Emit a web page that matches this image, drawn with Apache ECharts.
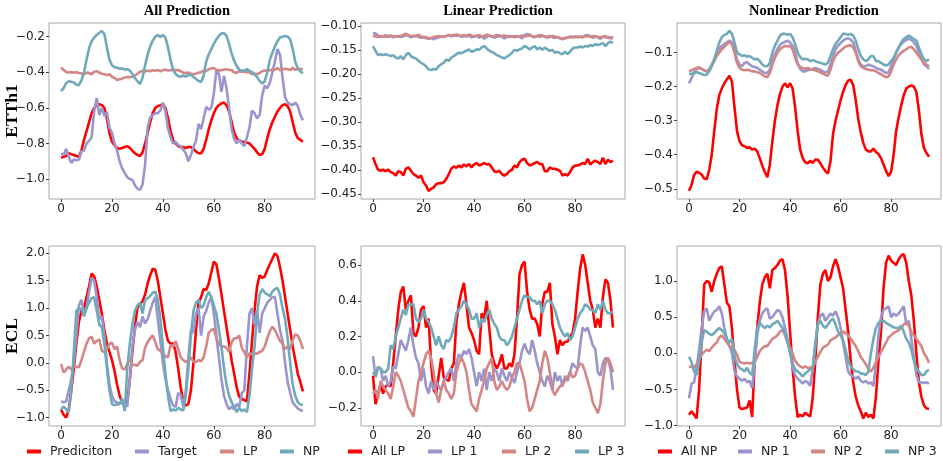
<!DOCTYPE html>
<html>
<head>
<meta charset="utf-8">
<script src="https://cdn.jsdelivr.net/npm/echarts@6/dist/echarts.min.js"></script>
<style>
  html, body { margin: 0; padding: 0; background: #fff; }
  #chart { width: 943px; height: 461px; }
</style>
</head>
<body>
<div id="chart"></div>
<script>
// ---------- ETTh1 series (96 forecast steps) ----------
const ettPred = [-0.88,-0.875,-0.87,-0.855,-0.86,-0.865,-0.87,-0.875,-0.84,-0.78,-0.73,-0.68,-0.63,-0.6,-0.585,-0.58,-0.585,-0.6,-0.66,-0.74,-0.79,-0.81,-0.825,-0.83,-0.825,-0.82,-0.815,-0.825,-0.84,-0.855,-0.865,-0.87,-0.85,-0.8,-0.74,-0.68,-0.63,-0.6,-0.59,-0.585,-0.58,-0.6,-0.66,-0.73,-0.78,-0.8,-0.815,-0.82,-0.82,-0.825,-0.82,-0.82,-0.83,-0.845,-0.855,-0.855,-0.83,-0.78,-0.72,-0.67,-0.63,-0.6,-0.585,-0.575,-0.57,-0.585,-0.62,-0.68,-0.74,-0.77,-0.785,-0.79,-0.79,-0.795,-0.8,-0.815,-0.83,-0.85,-0.865,-0.86,-0.83,-0.77,-0.72,-0.68,-0.65,-0.62,-0.6,-0.585,-0.58,-0.59,-0.62,-0.68,-0.74,-0.77,-0.78,-0.79];
const ettTarget = [-0.856,-0.865,-0.83,-0.875,-0.91,-0.89,-0.895,-0.89,-0.845,-0.84,-0.8,-0.785,-0.765,-0.62,-0.545,-0.64,-0.6,-0.645,-0.625,-0.71,-0.74,-0.8,-0.84,-0.9,-0.94,-0.965,-0.99,-1.0,-1.005,-1.035,-1.055,-1.06,-1.03,-0.92,-0.71,-0.655,-0.64,-0.63,-0.63,-0.615,-0.57,-0.62,-0.715,-0.765,-0.8,-0.79,-0.81,-0.815,-0.835,-0.855,-0.9,-0.865,-0.82,-0.785,-0.69,-0.72,-0.66,-0.595,-0.61,-0.6,-0.52,-0.39,-0.41,-0.51,-0.42,-0.49,-0.6,-0.72,-0.775,-0.8,-0.775,-0.8,-0.815,-0.765,-0.71,-0.615,-0.63,-0.66,-0.64,-0.53,-0.475,-0.49,-0.46,-0.4,-0.34,-0.27,-0.3,-0.43,-0.54,-0.57,-0.58,-0.585,-0.57,-0.59,-0.64,-0.67];
const ettLP = [-0.373,-0.387,-0.399,-0.401,-0.399,-0.402,-0.399,-0.404,-0.406,-0.411,-0.402,-0.404,-0.411,-0.397,-0.394,-0.401,-0.408,-0.411,-0.416,-0.411,-0.425,-0.432,-0.443,-0.439,-0.436,-0.429,-0.427,-0.427,-0.425,-0.418,-0.408,-0.397,-0.392,-0.395,-0.39,-0.394,-0.388,-0.392,-0.387,-0.394,-0.388,-0.385,-0.39,-0.388,-0.385,-0.388,-0.387,-0.394,-0.402,-0.404,-0.401,-0.408,-0.411,-0.408,-0.402,-0.399,-0.39,-0.394,-0.383,-0.378,-0.376,-0.385,-0.39,-0.388,-0.385,-0.383,-0.387,-0.387,-0.402,-0.402,-0.394,-0.397,-0.397,-0.399,-0.401,-0.411,-0.408,-0.411,-0.404,-0.394,-0.39,-0.39,-0.388,-0.385,-0.387,-0.376,-0.388,-0.383,-0.38,-0.383,-0.387,-0.374,-0.387,-0.378,-0.383,-0.38];
const ettNP = [-0.506,-0.489,-0.46,-0.45,-0.453,-0.458,-0.47,-0.472,-0.445,-0.4,-0.33,-0.265,-0.225,-0.205,-0.19,-0.178,-0.168,-0.185,-0.26,-0.33,-0.36,-0.372,-0.375,-0.38,-0.378,-0.385,-0.382,-0.39,-0.41,-0.432,-0.45,-0.466,-0.43,-0.36,-0.3,-0.255,-0.222,-0.2,-0.19,-0.202,-0.19,-0.205,-0.26,-0.33,-0.385,-0.41,-0.422,-0.425,-0.418,-0.424,-0.414,-0.415,-0.425,-0.438,-0.448,-0.455,-0.42,-0.34,-0.3,-0.27,-0.24,-0.215,-0.195,-0.182,-0.18,-0.195,-0.24,-0.295,-0.335,-0.365,-0.385,-0.39,-0.39,-0.382,-0.392,-0.398,-0.41,-0.428,-0.448,-0.463,-0.45,-0.4,-0.33,-0.29,-0.255,-0.225,-0.205,-0.2,-0.196,-0.2,-0.215,-0.27,-0.34,-0.38,-0.395,-0.406];
const ettLP1 = [-0.114,-0.115,-0.119,-0.122,-0.121,-0.118,-0.122,-0.12,-0.123,-0.121,-0.12,-0.122,-0.121,-0.118,-0.12,-0.123,-0.121,-0.12,-0.122,-0.124,-0.122,-0.125,-0.126,-0.124,-0.127,-0.124,-0.123,-0.121,-0.122,-0.12,-0.118,-0.121,-0.119,-0.12,-0.118,-0.122,-0.12,-0.121,-0.119,-0.123,-0.121,-0.119,-0.124,-0.12,-0.126,-0.122,-0.119,-0.121,-0.124,-0.122,-0.119,-0.121,-0.125,-0.122,-0.12,-0.121,-0.123,-0.12,-0.122,-0.125,-0.118,-0.116,-0.117,-0.121,-0.123,-0.12,-0.122,-0.119,-0.121,-0.124,-0.122,-0.12,-0.121,-0.123,-0.125,-0.127,-0.124,-0.123,-0.121,-0.122,-0.121,-0.123,-0.121,-0.122,-0.119,-0.118,-0.121,-0.124,-0.12,-0.123,-0.126,-0.122,-0.12,-0.124,-0.125,-0.121];
const ettLP2 = [-0.119,-0.121,-0.122,-0.12,-0.121,-0.122,-0.12,-0.119,-0.121,-0.12,-0.122,-0.12,-0.118,-0.115,-0.118,-0.121,-0.119,-0.12,-0.117,-0.121,-0.123,-0.122,-0.126,-0.124,-0.122,-0.121,-0.12,-0.122,-0.121,-0.12,-0.118,-0.119,-0.118,-0.117,-0.119,-0.12,-0.118,-0.12,-0.117,-0.119,-0.121,-0.12,-0.118,-0.121,-0.12,-0.117,-0.119,-0.122,-0.12,-0.118,-0.121,-0.12,-0.119,-0.12,-0.122,-0.121,-0.12,-0.122,-0.121,-0.119,-0.121,-0.12,-0.119,-0.12,-0.122,-0.12,-0.118,-0.12,-0.122,-0.121,-0.12,-0.123,-0.124,-0.122,-0.124,-0.126,-0.125,-0.124,-0.122,-0.123,-0.122,-0.121,-0.122,-0.123,-0.121,-0.12,-0.122,-0.12,-0.121,-0.122,-0.123,-0.121,-0.123,-0.122,-0.124,-0.125];
const ettLP3 = [-0.141,-0.151,-0.16,-0.158,-0.16,-0.158,-0.16,-0.162,-0.16,-0.165,-0.167,-0.162,-0.169,-0.16,-0.155,-0.162,-0.165,-0.167,-0.172,-0.176,-0.179,-0.183,-0.19,-0.191,-0.189,-0.19,-0.183,-0.179,-0.176,-0.169,-0.172,-0.165,-0.162,-0.158,-0.155,-0.156,-0.153,-0.151,-0.148,-0.153,-0.151,-0.148,-0.149,-0.144,-0.141,-0.146,-0.151,-0.153,-0.156,-0.16,-0.162,-0.165,-0.167,-0.163,-0.16,-0.155,-0.149,-0.151,-0.148,-0.146,-0.141,-0.144,-0.148,-0.144,-0.141,-0.148,-0.144,-0.149,-0.144,-0.148,-0.151,-0.149,-0.155,-0.153,-0.156,-0.158,-0.153,-0.158,-0.153,-0.146,-0.144,-0.144,-0.142,-0.144,-0.141,-0.142,-0.139,-0.141,-0.137,-0.139,-0.137,-0.135,-0.141,-0.135,-0.132,-0.135];
const ettNP1 = [-0.19,-0.175,-0.158,-0.148,-0.145,-0.148,-0.152,-0.155,-0.15,-0.135,-0.12,-0.1,-0.088,-0.08,-0.075,-0.07,-0.065,-0.07,-0.09,-0.12,-0.135,-0.14,-0.13,-0.128,-0.135,-0.14,-0.142,-0.145,-0.15,-0.155,-0.16,-0.16,-0.15,-0.125,-0.105,-0.09,-0.078,-0.072,-0.068,-0.065,-0.07,-0.08,-0.1,-0.13,-0.148,-0.155,-0.155,-0.152,-0.15,-0.148,-0.145,-0.148,-0.15,-0.155,-0.158,-0.155,-0.135,-0.11,-0.09,-0.08,-0.072,-0.065,-0.06,-0.058,-0.062,-0.07,-0.095,-0.12,-0.135,-0.14,-0.14,-0.135,-0.138,-0.14,-0.145,-0.148,-0.15,-0.155,-0.16,-0.158,-0.14,-0.12,-0.1,-0.085,-0.075,-0.068,-0.062,-0.06,-0.062,-0.07,-0.08,-0.1,-0.12,-0.135,-0.14,-0.148];
const ettNP2 = [-0.155,-0.152,-0.148,-0.145,-0.143,-0.148,-0.152,-0.155,-0.15,-0.138,-0.125,-0.11,-0.1,-0.09,-0.083,-0.075,-0.068,-0.075,-0.1,-0.13,-0.145,-0.15,-0.152,-0.15,-0.152,-0.155,-0.155,-0.158,-0.16,-0.165,-0.17,-0.172,-0.16,-0.135,-0.115,-0.1,-0.09,-0.085,-0.08,-0.082,-0.08,-0.09,-0.115,-0.135,-0.142,-0.145,-0.148,-0.145,-0.148,-0.15,-0.152,-0.155,-0.158,-0.162,-0.165,-0.168,-0.15,-0.125,-0.11,-0.1,-0.095,-0.088,-0.082,-0.08,-0.078,-0.085,-0.1,-0.125,-0.14,-0.145,-0.148,-0.15,-0.152,-0.152,-0.155,-0.16,-0.163,-0.168,-0.172,-0.17,-0.155,-0.135,-0.12,-0.108,-0.1,-0.095,-0.09,-0.085,-0.083,-0.09,-0.1,-0.11,-0.12,-0.13,-0.135,-0.14];
const ettNP3 = [-0.163,-0.162,-0.16,-0.158,-0.16,-0.163,-0.166,-0.165,-0.155,-0.14,-0.12,-0.095,-0.07,-0.055,-0.048,-0.045,-0.036,-0.045,-0.07,-0.1,-0.105,-0.11,-0.108,-0.112,-0.11,-0.115,-0.12,-0.118,-0.125,-0.135,-0.14,-0.14,-0.13,-0.1,-0.08,-0.065,-0.05,-0.045,-0.045,-0.048,-0.045,-0.055,-0.075,-0.1,-0.113,-0.12,-0.118,-0.12,-0.125,-0.122,-0.125,-0.128,-0.13,-0.133,-0.135,-0.13,-0.11,-0.09,-0.075,-0.065,-0.055,-0.045,-0.045,-0.048,-0.045,-0.05,-0.065,-0.09,-0.11,-0.12,-0.125,-0.12,-0.11,-0.11,-0.125,-0.125,-0.13,-0.135,-0.138,-0.135,-0.125,-0.115,-0.1,-0.085,-0.07,-0.06,-0.055,-0.05,-0.055,-0.06,-0.065,-0.085,-0.105,-0.12,-0.125,-0.12];

// ---------- ECL series (96 forecast steps) ----------
const eclPred = [-0.85,-0.95,-1.0,-0.85,-0.5,-0.1,0.35,0.75,0.95,1.0,1.2,1.4,1.63,1.58,1.4,1.15,0.9,0.6,0.35,0.2,0.05,-0.15,-0.4,-0.6,-0.72,-0.8,-0.7,-0.3,0.2,0.65,1.0,1.08,1.12,1.25,1.45,1.6,1.72,1.7,1.5,1.2,0.9,0.6,0.4,0.35,0.36,0.2,-0.1,-0.45,-0.7,-0.78,-0.75,-0.5,0.0,0.6,1.1,1.2,1.35,1.33,1.45,1.65,1.85,1.8,1.55,1.25,0.95,0.65,0.35,0.05,-0.2,-0.45,-0.62,-0.66,-0.68,-0.7,-0.2,0.4,0.95,1.4,1.6,1.55,1.58,1.7,1.8,1.9,2.0,1.95,1.75,1.5,1.2,0.9,0.6,0.3,0.05,-0.2,-0.35,-0.52];
const eclTarget = [-0.7,-0.72,-0.7,-0.5,-0.3,0.0,0.5,1.05,1.15,0.9,1.0,1.3,1.55,1.5,1.2,0.8,0.85,0.5,0.0,-0.4,-0.6,-0.7,-0.72,-0.75,-0.7,-0.75,-0.8,-0.3,0.3,0.6,0.75,0.65,0.85,0.72,0.8,0.95,1.1,1.2,0.8,0.4,0.0,-0.3,-0.5,-0.65,-0.78,-0.8,-0.55,-0.58,-0.8,-0.5,0.1,0.6,0.55,0.9,1.0,0.5,0.85,0.95,1.1,1.2,0.9,0.5,0.1,-0.3,-0.6,-0.75,-0.85,-0.8,-0.85,-0.75,-0.8,-0.55,-0.5,0.3,0.9,1.0,0.7,0.95,0.55,0.9,1.0,1.1,1.15,1.2,1.2,0.9,0.6,0.4,0.0,-0.35,-0.55,-0.72,-0.78,-0.83,-0.86,-0.88];
const eclLP = [-0.02,-0.18,-0.12,-0.07,-0.12,-0.08,-0.07,-0.08,0.05,0.2,0.35,0.45,0.48,0.35,0.4,0.43,0.22,0.2,0.25,0.35,0.37,0.25,0.3,0.05,-0.1,-0.12,-0.02,0.08,-0.03,-0.04,-0.05,0.02,0.05,0.28,0.38,0.45,0.5,0.38,0.25,0.22,0.18,0.12,0.1,0.33,0.3,0.4,0.25,0.1,0.05,0.02,0.05,0.1,0.02,0.02,0.05,0.03,0.1,0.3,0.55,0.6,0.62,0.45,0.35,0.3,0.3,0.27,0.2,0.38,0.45,0.45,0.5,0.27,0.2,0.1,0.18,0.15,0.17,0.17,0.2,0.22,0.3,0.45,0.58,0.66,0.6,0.5,0.4,0.35,0.25,0.3,0.25,0.42,0.52,0.5,0.4,0.25];
const eclNP = [-0.85,-0.8,-0.85,-0.9,-0.5,0.2,0.95,1.0,0.98,0.85,1.0,1.1,1.18,1.2,0.95,0.7,0.65,0.35,-0.1,-0.5,-0.75,-0.77,-0.76,-0.75,-0.65,-0.88,-0.1,0.35,0.7,0.95,1.05,1.1,0.9,1.15,1.18,1.22,1.28,1.3,1.15,0.8,0.3,-0.2,-0.6,-0.88,-0.85,-0.87,-0.82,-0.85,-0.87,-0.6,-0.1,0.5,0.95,1.1,1.15,1.0,1.05,1.2,1.3,1.2,1.05,0.9,0.6,0.3,-0.1,-0.4,-0.6,-0.72,-0.8,-0.9,-0.82,-0.88,-0.85,-0.9,-0.6,-0.1,0.3,0.9,1.25,1.35,1.28,1.25,1.22,1.3,1.35,1.37,1.25,1.0,0.8,0.45,0.0,-0.4,-0.6,-0.72,-0.76,-0.77];
const eclLP1 = [0.09,-0.03,0.03,0.02,-0.05,-0.02,-0.08,-0.05,0.03,0.02,0.1,0.18,0.15,0.12,0.18,0.25,0.15,0.08,0.05,-0.05,0.02,-0.08,-0.12,-0.05,-0.1,-0.05,-0.08,-0.1,-0.05,-0.03,0.0,0.02,-0.05,0.05,0.1,0.08,0.12,0.1,0.13,0.08,0.0,-0.08,0.0,-0.05,0.02,-0.1,0.0,-0.05,0.02,0.0,-0.05,0.02,-0.02,-0.05,0.0,-0.03,-0.06,0.0,0.05,0.12,0.16,0.12,0.1,0.18,0.12,0.05,0.0,-0.05,-0.08,-0.02,-0.05,-0.1,0.0,-0.05,-0.02,-0.08,-0.02,-0.05,0.0,0.05,0.03,0.02,0.15,0.25,0.23,0.25,0.2,0.15,0.13,0.0,-0.02,0.05,0.08,0.07,0.02,-0.1];
const eclLP2 = [-0.12,-0.1,-0.15,-0.05,-0.08,-0.1,-0.12,-0.15,-0.08,0.0,-0.02,-0.05,-0.1,-0.15,-0.2,-0.22,-0.25,-0.15,-0.05,0.0,0.05,0.1,0.12,0.08,0.0,-0.12,-0.17,-0.1,-0.05,-0.1,-0.12,-0.15,-0.12,0.0,0.05,0.08,0.05,0.0,-0.1,-0.18,-0.2,-0.22,-0.15,-0.1,-0.05,0.02,0.05,0.08,-0.05,-0.1,-0.08,-0.05,-0.08,-0.1,-0.08,-0.03,0.0,0.05,0.05,0.0,-0.05,-0.15,-0.22,-0.2,-0.15,-0.1,-0.05,0.05,0.12,0.08,0.0,-0.1,-0.13,-0.1,-0.08,-0.07,-0.05,-0.03,0.0,-0.03,-0.02,0.02,0.05,0.04,0.0,-0.05,-0.1,-0.17,-0.2,-0.23,-0.18,-0.05,0.05,0.08,0.05,0.0];
const eclLP3 = [0.0,-0.02,0.03,0.02,0.0,0.0,0.02,0.15,0.13,0.2,0.25,0.3,0.35,0.32,0.38,0.38,0.38,0.3,0.28,0.3,0.35,0.3,0.28,0.25,0.2,0.15,0.2,0.15,0.13,0.18,0.17,0.2,0.25,0.33,0.35,0.37,0.4,0.38,0.35,0.3,0.3,0.33,0.25,0.3,0.28,0.32,0.35,0.3,0.27,0.25,0.2,0.18,0.18,0.15,0.17,0.2,0.25,0.3,0.35,0.4,0.43,0.42,0.42,0.4,0.4,0.38,0.4,0.33,0.38,0.4,0.4,0.38,0.35,0.3,0.25,0.22,0.2,0.22,0.18,0.2,0.25,0.3,0.33,0.35,0.38,0.37,0.35,0.35,0.33,0.38,0.35,0.4,0.35,0.33,0.33,0.34];
const eclNP1 = [-0.62,-0.42,-0.4,-0.2,0.05,0.35,0.58,0.62,0.45,0.52,0.58,0.6,0.65,0.55,0.35,0.2,0.1,0.0,-0.25,-0.32,-0.35,-0.38,-0.35,-0.4,-0.38,-0.48,-0.15,0.25,0.45,0.55,0.6,0.62,0.48,0.5,0.55,0.6,0.58,0.5,0.35,0.2,0.05,-0.2,-0.3,-0.35,-0.38,-0.42,-0.38,-0.4,-0.45,-0.2,0.15,0.4,0.52,0.55,0.45,0.5,0.55,0.52,0.58,0.5,0.35,0.15,-0.05,-0.25,-0.3,-0.32,-0.35,-0.32,-0.38,-0.4,-0.38,-0.42,-0.4,-0.45,-0.15,0.25,0.5,0.6,0.62,0.65,0.5,0.55,0.52,0.55,0.6,0.65,0.4,0.45,0.2,-0.05,-0.3,-0.4,-0.4,-0.41,-0.4,-0.42];
const eclNP2 = [-0.18,-0.19,-0.2,-0.15,-0.08,-0.02,0.02,0.05,0.03,0.08,0.12,0.15,0.22,0.25,0.2,0.15,0.1,0.08,0.05,-0.02,-0.12,-0.13,-0.14,-0.13,-0.14,-0.13,-0.12,-0.05,0.03,0.07,0.1,0.1,0.15,0.2,0.22,0.25,0.3,0.32,0.25,0.15,0.08,0.0,-0.1,-0.15,-0.18,-0.2,-0.18,-0.2,-0.2,-0.18,-0.12,-0.05,0.02,0.08,0.1,0.12,0.18,0.2,0.22,0.25,0.28,0.3,0.28,0.25,0.2,0.15,0.1,0.03,-0.05,-0.1,-0.15,-0.22,-0.25,-0.2,-0.12,-0.05,0.02,0.08,0.15,0.22,0.25,0.28,0.3,0.32,0.35,0.4,0.42,0.38,0.3,0.25,0.2,0.15,0.1,0.0,-0.05,-0.13];
const eclNP3 = [-0.05,-0.12,-0.25,-0.3,-0.12,0.15,0.32,0.3,0.27,0.25,0.28,0.32,0.35,0.32,0.28,0.2,0.15,0.2,-0.05,-0.15,-0.2,-0.22,-0.25,-0.2,-0.27,-0.3,0.05,0.35,0.42,0.38,0.35,0.38,0.36,0.4,0.42,0.45,0.4,0.35,0.28,0.15,0.0,-0.15,-0.22,-0.25,-0.28,-0.32,-0.28,-0.25,-0.22,-0.2,0.1,0.4,0.45,0.38,0.35,0.4,0.45,0.48,0.4,0.3,0.25,0.18,0.05,-0.1,-0.18,-0.22,-0.25,-0.25,-0.28,-0.28,-0.3,-0.25,0.0,0.2,0.35,0.42,0.45,0.45,0.42,0.4,0.38,0.36,0.35,0.35,0.38,0.3,0.2,0.15,0.05,-0.1,-0.2,-0.25,-0.3,-0.3,-0.25,-0.23];

// ---------- tick labels ----------
const xTicks = [0, 20, 40, 60, 80];
const yTicksEttAll = [-1.0, -0.8, -0.6, -0.4, -0.2];
const yTicksEttLinear = [-0.45, -0.40, -0.35, -0.30, -0.25, -0.20, -0.15, -0.10];
const yTicksEttNonlinear = [-0.5, -0.4, -0.3, -0.2, -0.1];
const yTicksEclAll = [-1.0, -0.5, 0.0, 0.5, 1.0, 1.5, 2.0];
const yTicksEclLinear = [-0.2, 0.0, 0.2, 0.4, 0.6];
const yTicksEclNonlinear = [-1.0, -0.5, 0.0, 0.5, 1.0];

const columnTitles = ['All Prediction', 'Linear Prediction', 'Nonlinear Prediction'];
const rowLabels = ['ETTh1', 'ECL'];
const legendNames = [
  ['Prediciton', 'Target', 'LP', 'NP'],
  ['All LP', 'LP 1', 'LP 2', 'LP 3'],
  ['All NP', 'NP 1', 'NP 2', 'NP 3']
];

const colorMain = '#ff0000';
const colorPurple = '#9b95cd';
const colorSalmon = '#d48686';
const colorTeal = '#6eaab9';

const FONT = 'DejaVu Sans';
const SERIF = 'Liberation Serif, Times New Roman, serif';

// panel frames
const grids = [
  { left: 49,  top: 23,  width: 266, height: 176 },
  { left: 361, top: 23,  width: 264, height: 176 },
  { left: 677, top: 23,  width: 264, height: 176 },
  { left: 49,  top: 246, width: 266, height: 180 },
  { left: 361, top: 246, width: 264, height: 180 },
  { left: 677, top: 246, width: 264, height: 180 }
];

// legend swatch x positions, one row per column of panels
const legendLeft = [
  [27, 135, 220, 280],
  [348, 428, 502, 575],
  [658, 738, 811, 885]
];

// per-panel y range, ticks and decimals
const yConf = [
  { min: -1.112, max: -0.123, ticks: yTicksEttAll, dec: 1 },
  { min: -0.460, max: -0.093, ticks: yTicksEttLinear, dec: 2 },
  { min: -0.530, max: -0.013, ticks: yTicksEttNonlinear, dec: 1 },
  { min: -1.152, max: 2.134, ticks: yTicksEclAll, dec: 1 },
  { min: -0.302, max: 0.707, ticks: yTicksEclLinear, dec: 1 },
  { min: -1.004, max: 1.483, ticks: yTicksEclNonlinear, dec: 1 }
];

// series per panel: [name, data, color]
const panels = [
  [['Prediciton', ettPred, colorMain], ['Target', ettTarget, colorPurple], ['LP', ettLP, colorSalmon], ['NP', ettNP, colorTeal]],
  [['All LP', ettLP, colorMain], ['LP 1', ettLP1, colorPurple], ['LP 2', ettLP2, colorSalmon], ['LP 3', ettLP3, colorTeal]],
  [['All NP', ettNP, colorMain], ['NP 1', ettNP1, colorPurple], ['NP 2', ettNP2, colorSalmon], ['NP 3', ettNP3, colorTeal]],
  [['Prediciton', eclPred, colorMain], ['Target', eclTarget, colorPurple], ['LP', eclLP, colorSalmon], ['NP', eclNP, colorTeal]],
  [['All LP', eclLP, colorMain], ['LP 1', eclLP1, colorPurple], ['LP 2', eclLP2, colorSalmon], ['LP 3', eclLP3, colorTeal]],
  [['All NP', eclNP, colorMain], ['NP 1', eclNP1, colorPurple], ['NP 2', eclNP2, colorSalmon], ['NP 3', eclNP3, colorTeal]]
];

const fmt = (v, d) => v.toFixed(d).replace('-', '\u2212');

const xAxes = grids.map((g, i) => ({
  type: 'value', gridIndex: i, min: -4.75, max: 99.75,
  axisLine: { show: false, onZero: false },
  splitLine: { show: false },
  axisTick: { show: true, length: 3, lineStyle: { color: '#444', width: 1 }, customValues: xTicks },
  axisLabel: { color: '#222', fontFamily: FONT, fontSize: 12, margin: 3.5, customValues: xTicks,
               formatter: v => String(Math.round(v)) }
}));

const yAxes = yConf.map((c, i) => ({
  type: 'value', gridIndex: i, min: c.min, max: c.max,
  axisLine: { show: false, onZero: false },
  splitLine: { show: false },
  axisTick: { show: true, length: 3, lineStyle: { color: '#444', width: 1 }, customValues: c.ticks },
  axisLabel: { color: '#222', fontFamily: FONT, fontSize: 12, margin: 4, customValues: c.ticks,
               formatter: v => fmt(v, c.dec) }
}));

const series = [];
panels.forEach((list, pi) => {
  list.forEach(([name, data, color]) => {
    series.push({
      type: 'line', name, xAxisIndex: pi, yAxisIndex: pi,
      data: data.map((v, k) => [k, v]),
      showSymbol: false, symbol: 'none', color,
      lineStyle: { color, width: 2.6 },
      animation: false
    });
  });
});

// one legend component per entry so each swatch sits at its own x
const legends = [];
legendNames.forEach((names, c) => {
  names.forEach((n, k) => {
    legends.push({
      data: [n], left: legendLeft[c][k], top: 445, padding: 0,
      icon: 'rect', itemWidth: 14, itemHeight: 4,
      textStyle: { fontFamily: FONT, fontSize: 12.5, color: '#222', padding: [0, 0, 0, 4] }
    });
  });
});

const titles = columnTitles.map((t, i) => ({
  text: t,
  left: grids[i].left + grids[i].width / 2,
  top: -1,
  textAlign: 'center',
  textStyle: { fontFamily: SERIF, fontWeight: 'bold', fontSize: 14.5, color: '#000' }
}));

const rowText = rowLabels.map((t, r) => ({
  type: 'text',
  x: 12.5,
  y: grids[r * 3].top + grids[r * 3].height / 2,
  rotation: Math.PI / 2,
  style: { text: t, font: 'bold 17.5px ' + SERIF, fill: '#000', align: 'center', verticalAlign: 'middle' }
}));

const chart = echarts.init(document.getElementById('chart'), null, { renderer: 'canvas' });
chart.setOption({
  animation: false,
  backgroundColor: '#fff',
  title: titles,
  grid: grids.map(g => Object.assign({ show: true, borderColor: '#a8a8a8', borderWidth: 1, backgroundColor: 'transparent' }, g)),
  xAxis: xAxes,
  yAxis: yAxes,
  legend: legends,
  graphic: rowText,
  series
});
</script>
</body>
</html>
